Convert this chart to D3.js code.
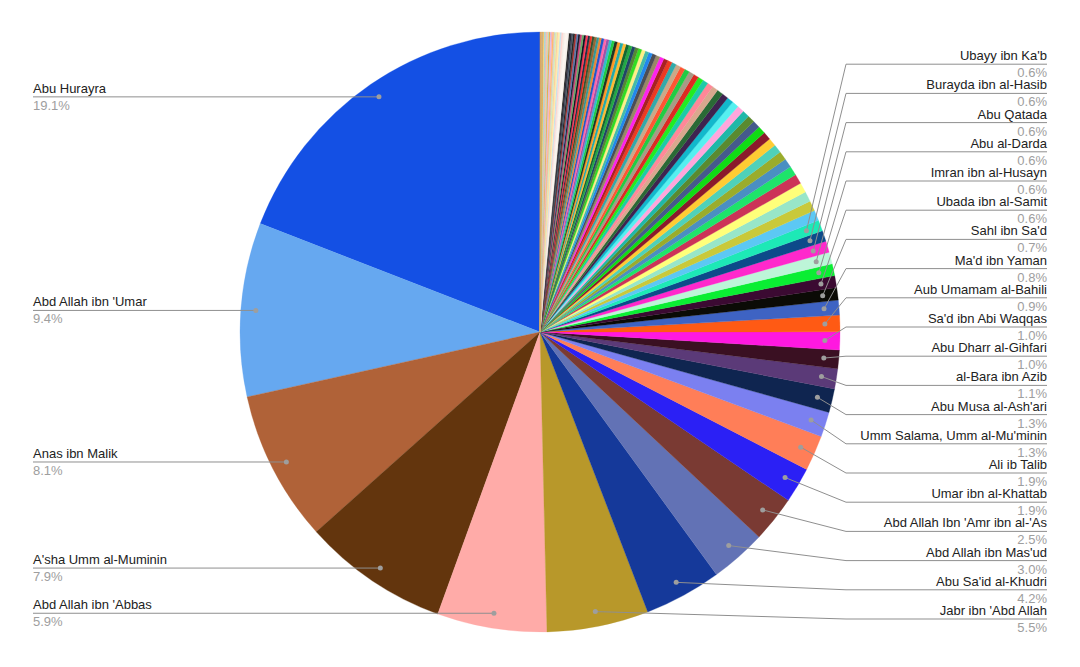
<!DOCTYPE html>
<html>
<head>
<meta charset="utf-8">
<script src="https://cdn.jsdelivr.net/npm/d3@7"></script>
<style>
    body { margin: 0; background: #fff; }
</style>
</head>
<body>
<div id="chart"></div>
<script>
// narrators with a label (hadith counts)
var narrators = ["Abu Hurayra", "Abd Allah ibn 'Umar", "Anas ibn Malik", "A'sha Umm al-Muminin", "Abd Allah ibn 'Abbas",
    "Jabr ibn 'Abd Allah", "Abu Sa'id al-Khudri", "Abd Allah ibn Mas'ud", "Abd Allah Ibn 'Amr ibn al-'As", "Umar ibn al-Khattab",
    "Ali ib Talib", "Umm Salama, Umm al-Mu'minin", "Abu Musa al-Ash'ari", "al-Bara ibn Azib", "Abu Dharr al-Gihfari",
    "Sa'd ibn Abi Waqqas", "Aub Umamam al-Bahili", "Ma'd ibn Yaman", "Sahl ibn Sa'd", "Ubada ibn al-Samit",
    "Imran ibn al-Husayn", "Abu al-Darda", "Abu Qatada", "Burayda ibn al-Hasib", "Ubayy ibn Ka'b"];
var counts = [5374, 2630, 2286, 2210, 1660, 1540, 1170, 848, 700, 537, 536, 378, 360, 305, 281, 271, 250, 225, 188, 181, 180, 179, 170, 167, 164];
var colors = ["#1450e4", "#66a8f0", "#b06238", "#63350d", "#ffaba8", "#b8982a", "#15399a", "#6272b5", "#7a3a33", "#2b20f5",
    "#ff7e58", "#7b80f0", "#0f2550", "#5b3a78", "#3a1022", "#ff18e0", "#ff5a14", "#3e63c3", "#0b0b06", "#3b0a32",
    "#0aee33", "#bdf5d8", "#ff28cc", "#0d4a8a", "#1de9b6"];

// the many small narrators without a label
var otherCounts = [158, 155, 152, 150, 148,
    140, 136, 132, 128, 124, 120, 117, 114, 111, 108, 105, 102, 99, 96,
    94, 90, 88, 85, 82, 80, 78, 76, 74, 72, 70, 68, 66, 64, 62, 60, 58, 56, 55, 53, 51, 50, 47,
    47, 46, 45, 44, 43, 42, 41, 40, 39, 38, 37, 36, 35, 34, 33, 32, 31, 30, 29, 28, 27, 26, 25, 24, 23, 22, 21,
    30, 28, 27, 26, 25, 24, 23, 22, 21, 20, 19, 18, 17, 16, 15, 14, 13, 12, 11, 10, 9, 8, 7, 6, 5, 4];
var otherColors = ["#5cc8f4", "#c9c93a", "#98e6c8", "#ffff7a", "#cc3358",
    "#1ee46a", "#4a8fc2", "#9aac2c", "#4fd1b9", "#ffcc33", "#8b1a2b", "#10dc14", "#455a8c", "#5a8a30", "#20b8a8", "#ffa6dc", "#55f0f0", "#12b8cc", "#3e2350",
    "#2a6a36", "#d9a88e", "#ff8898", "#1fcaa8", "#22ec22", "#dd2a22", "#a89a86", "#22cc44", "#ff5533", "#cca888", "#33aaaa", "#ee3a22", "#a82222", "#ff22ee", "#998866", "#4d4d55", "#2288ee", "#44bba8", "#ffee88", "#33dd22", "#558833", "#224466", "#22aa44",
    "#116633", "#ffbb33", "#22aaaa", "#ff9922", "#223322", "#22cc44", "#33bbcc", "#9955aa", "#ff66aa", "#2255cc", "#ee8833", "#339999", "#996633", "#335533", "#ee3322", "#223344", "#ff3355", "#111122", "#66aa66", "#cc4477", "#1a1a2e", "#5577aa", "#aa3333", "#222222", "#445566", "#2b2b3b", "#1c1c1c",
    "#f8f2ec", "#fdf6f0", "#f4ede6", "#ffd6d0", "#c8e0ee", "#ffeeaa", "#ffd0a0", "#d8eeb0", "#d0d0d0", "#ffbb66", "#ffb0b0", "#d0c0ee", "#f0a030", "#aaddcc", "#ffcc88", "#eeaacc", "#bbddaa", "#99ccee", "#ffdd77", "#e8a040", "#ccaa77", "#aacc55", "#ff9966", "#88bbdd", "#f0c060", "#e09040"];

function init() {
    var w = 1080;
    var h = 667;
    var cx = 540, cy = 332, radius = 300;
    var dotRadius = 285;
    var leftCount = 5;

    var slices = [];
    counts.forEach(function (c, i) {
        slices.push({ name: narrators[i], value: c, color: colors[i], labeled: true, idx: i });
    });
    otherCounts.forEach(function (c, i) {
        slices.push({ name: "", value: c, color: otherColors[i % otherColors.length], labeled: false, idx: counts.length + i });
    });
    var total = d3.sum(slices, function (d) { return d.value; });

    var svg = d3.select("#chart")
        .append("svg")
        .attr("width", w)
        .attr("height", h)
        .style("font-family", "'Liberation Sans', Arial, sans-serif");

    // pie goes counter-clockwise starting at 12 o'clock
    var pie = d3.pie()
        .sort(null)
        .value(function (d) { return d.value; })
        .startAngle(0)
        .endAngle(-2 * Math.PI);

    var arc = d3.arc().innerRadius(0).outerRadius(radius);
    var arcs = pie(slices);

    var g = svg.append("g").attr("transform", "translate(" + cx + "," + cy + ")");
    g.selectAll("path")
        .data(arcs)
        .enter()
        .append("path")
        .attr("d", arc)
        .attr("fill", function (d) { return d.data.color; })
        .attr("stroke", function (d) { return d.data.color; })
        .attr("stroke-width", 0.3);

    var labeled = arcs.filter(function (d) { return d.data.labeled; });
    labeled.forEach(function (d) {
        var a = (d.startAngle + d.endAngle) / 2;
        d.dx = cx + dotRadius * Math.sin(a);
        d.dy = cy - dotRadius * Math.cos(a);
    });

    // right side labels are stacked evenly from the bottom
    var rightBottom = 619, rightStep = 29.2, elbowX = 846, rightX = 1047, leftX = 33;
    labeled.forEach(function (d, i) {
        if (i < leftCount) {
            d.side = "left";
            d.ly = d.dy;
        } else {
            d.side = "right";
            d.ly = rightBottom - (i - leftCount) * rightStep;
        }
    });

    var labels = svg.append("g");

    labels.selectAll("path")
        .data(labeled)
        .enter()
        .append("path")
        .attr("d", function (d) {
            if (d.side === "left") {
                return "M" + leftX + "," + d.ly + "L" + d.dx + "," + d.dy;
            }
            return "M" + d.dx + "," + d.dy + "L" + elbowX + "," + d.ly + "L" + rightX + "," + d.ly;
        })
        .attr("fill", "none")
        .attr("stroke", "#8f8f8f")
        .attr("stroke-width", 1);

    labels.selectAll("circle")
        .data(labeled)
        .enter()
        .append("circle")
        .attr("cx", function (d) { return d.dx; })
        .attr("cy", function (d) { return d.dy; })
        .attr("r", 2.5)
        .attr("fill", "#9e9e9e");

    labels.selectAll("text.name")
        .data(labeled)
        .enter()
        .append("text")
        .attr("class", "name")
        .text(function (d) { return d.data.name; })
        .attr("x", function (d) { return d.side === "left" ? leftX : rightX; })
        .attr("y", function (d) { return d.ly - 4; })
        .attr("text-anchor", function (d) { return d.side === "left" ? "start" : "end"; })
        .attr("font-size", "13px")
        .attr("fill", "#222");

    labels.selectAll("text.pct")
        .data(labeled)
        .enter()
        .append("text")
        .attr("class", "pct")
        .text(function (d) { return (d.data.value / total * 100).toFixed(1) + "%"; })
        .attr("x", function (d) { return d.side === "left" ? leftX : rightX; })
        .attr("y", function (d) { return d.ly + 13; })
        .attr("text-anchor", function (d) { return d.side === "left" ? "start" : "end"; })
        .attr("font-size", "13px")
        .attr("fill", "#9e9e9e");
}

window.onload = init;
</script>
</body>
</html>
